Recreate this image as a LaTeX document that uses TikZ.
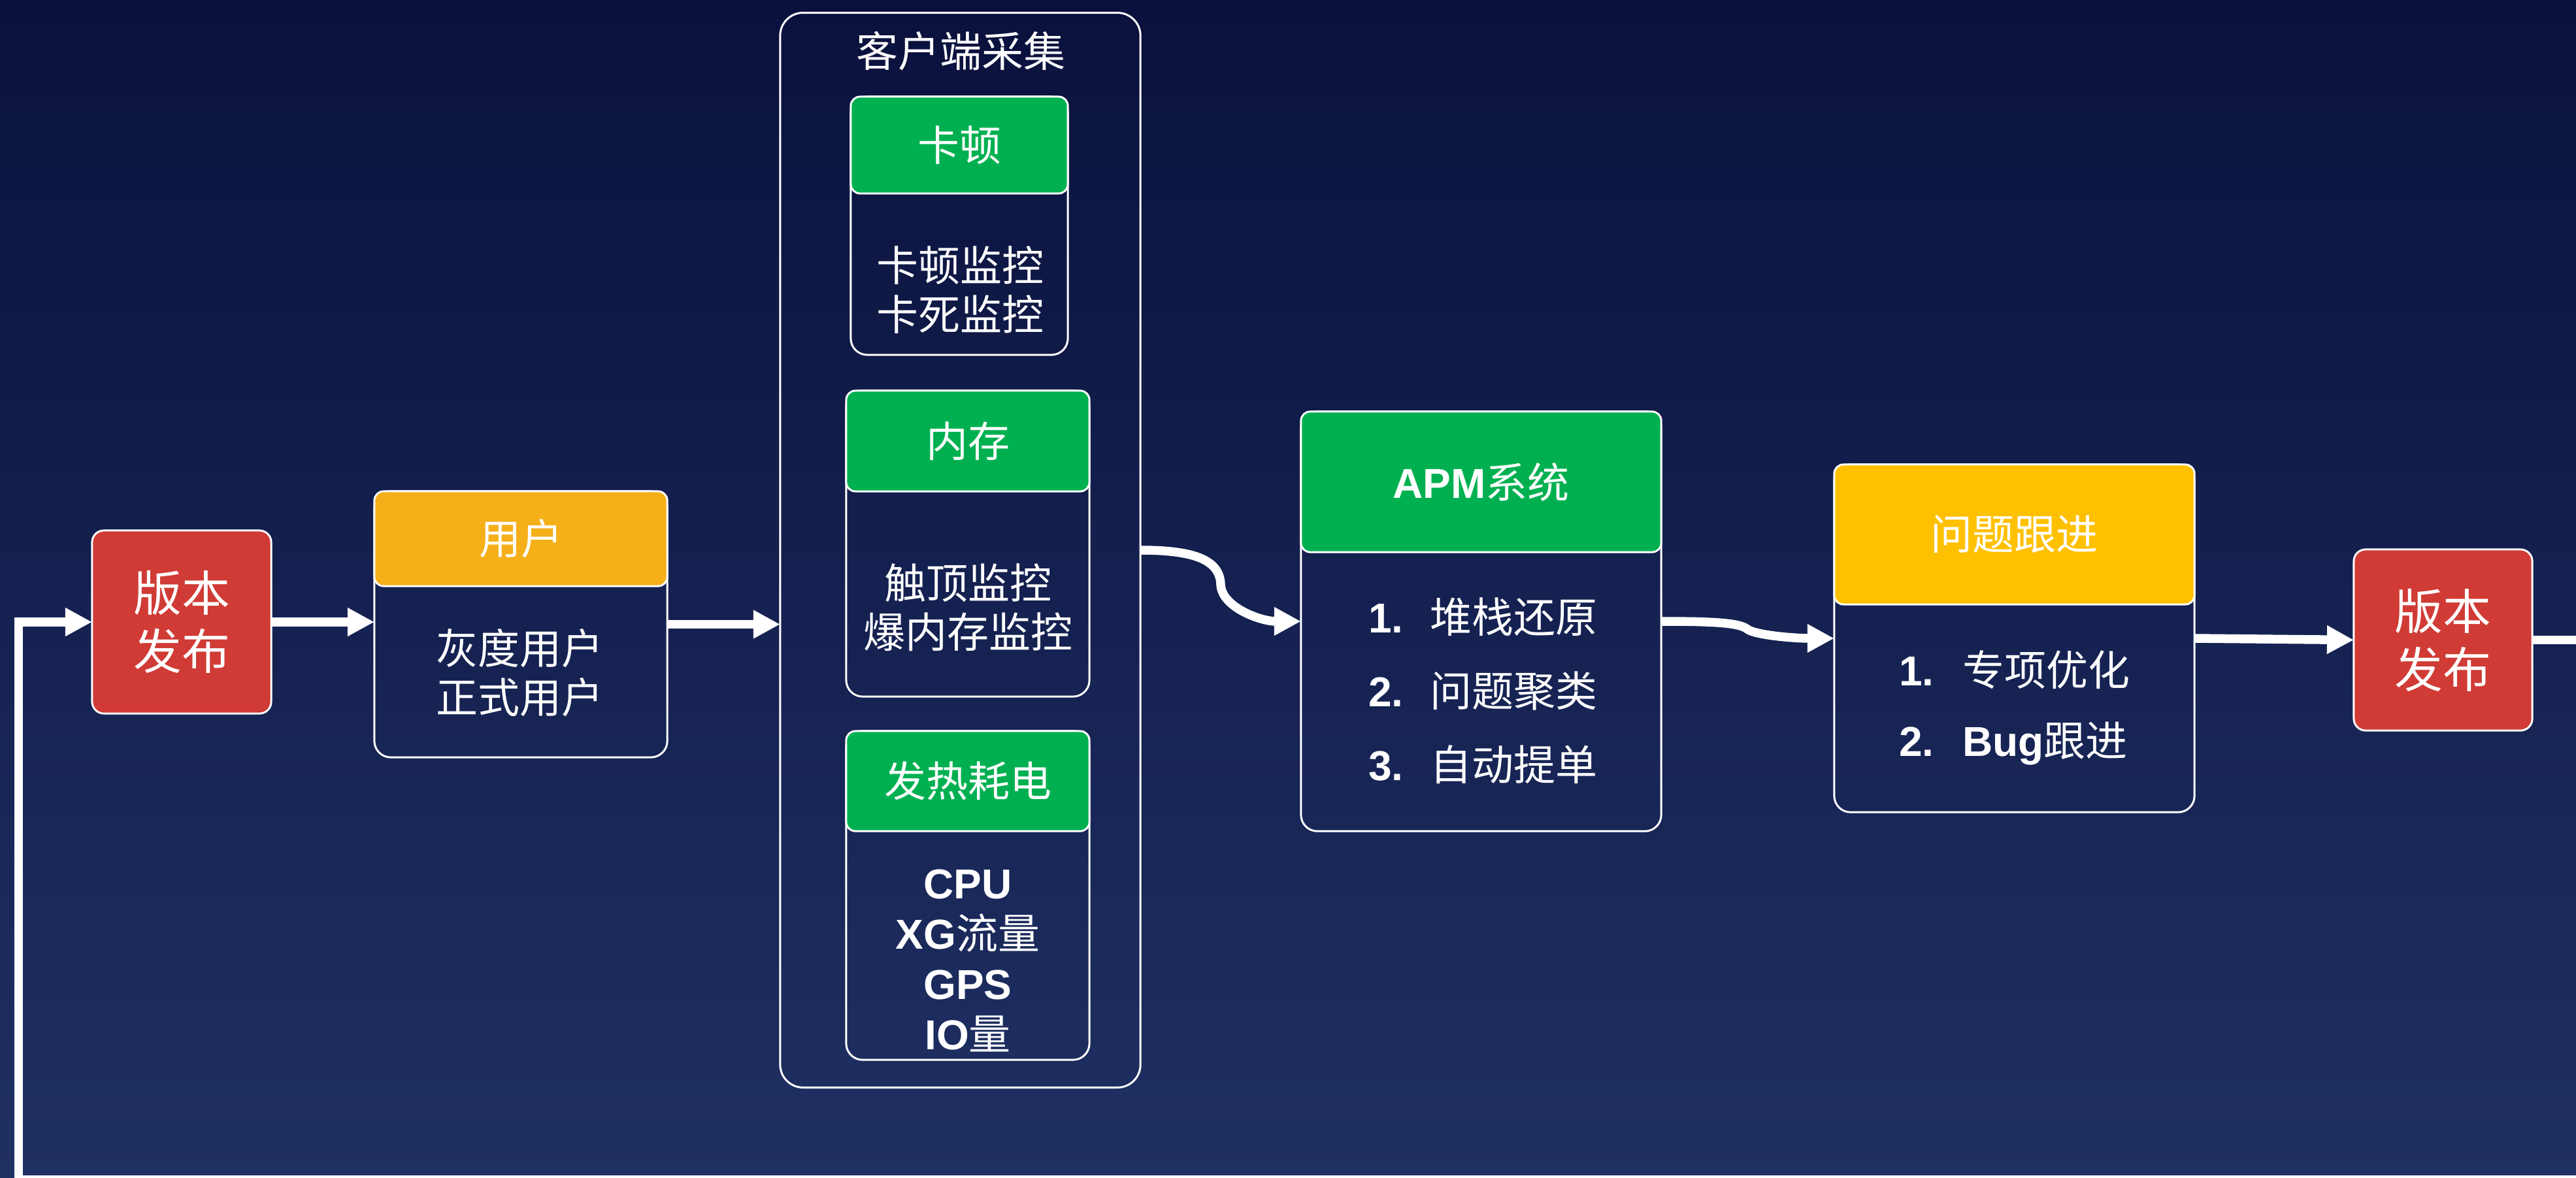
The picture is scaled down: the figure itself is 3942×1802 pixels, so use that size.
\documentclass[tikz,border=0pt]{standalone}
\usepackage{fontspec}
\setmainfont{Noto Sans CJK SC}
\newfontfamily\latb{Liberation Sans}
\usetikzlibrary{arrows.meta}
\definecolor{bgtop}{RGB}{10,17,60}
\definecolor{bgbot}{RGB}{31,48,99}
\definecolor{vred}{RGB}{208,59,54}
\definecolor{uorange}{RGB}{245,175,25}
\definecolor{tyellow}{RGB}{255,192,0}
\definecolor{hgreen}{RGB}{0,176,80}
\newcommand{\B}[1]{{\latb\bfseries #1}}
\begin{document}
\begin{tikzpicture}[x=0.01cm,y=-0.01cm,
  every node/.style={text=white, inner sep=0pt, outer sep=0pt},
  frame/.style={rectangle, draw=white, line width=0.85pt, rounded corners=0.25cm},
  outerframe/.style={rectangle, draw=white, line width=0.85pt, rounded corners=0.35cm},
  head/.style={rectangle, draw=white, line width=0.85pt, rounded corners=0.14cm, font=\fontsize{18.2pt}{21.3pt}\selectfont},
  release/.style={rectangle, draw=white, line width=0.85pt, rounded corners=0.18cm, fill=vred, align=center, font=\fontsize{21pt}{25.3pt}\selectfont},
  txt/.style={align=center, font=\fontsize{18.2pt}{21.3pt}\selectfont},
  item/.style={anchor=west, font=\fontsize{18.2pt}{21.3pt}\selectfont},
  flow/.style={draw=white, line width=3.84pt, line join=miter, -{Triangle[length=0.41cm,width=0.41cm]}}
]
\useasboundingbox (0,0) rectangle (3942,1802);
\clip (0,0) rectangle (3942,1802);
\shade[top color=bgtop, bottom color=bgbot] (0,0) rectangle (3942,1802);

% release boxes
\node[release, minimum width=2.74cm, minimum height=2.80cm] (vb1) at (278,952) {版本\\发布};
\node[release, minimum width=2.73cm, minimum height=2.77cm] (vb2) at (3738.5,979.5) {版本\\发布};

% users
\node[frame, minimum width=4.48cm, minimum height=4.07cm] (user) at (797,955.5) {};
\node[head, fill=uorange, minimum width=4.48cm, minimum height=1.45cm] (userh) at (797,824.5) {用户};
\node[txt] (usertxt) at (795,1030) {灰度用户\\正式用户};

% client collection
\node[outerframe, minimum width=5.51cm, minimum height=16.44cm] (client) at (1469.5,842) {};
\node[txt] (clienttitle) at (1470,78) {客户端采集};

\node[frame, minimum width=3.32cm, minimum height=3.95cm] (kd) at (1468,345.5) {};
\node[head, fill=hgreen, minimum width=3.32cm, minimum height=1.48cm] (kdh) at (1468,222) {卡顿};
\node[txt] (kdtxt) at (1469,444) {卡顿监控\\卡死监控};

\node[frame, minimum width=3.72cm, minimum height=4.68cm] (nc) at (1481,832) {};
\node[head, fill=hgreen, minimum width=3.72cm, minimum height=1.54cm] (nch) at (1481,675) {内存};
\node[txt] (nctxt) at (1481,930) {触顶监控\\爆内存监控};

\node[frame, minimum width=3.72cm, minimum height=5.03cm] (fr) at (1481,1370.5) {};
\node[head, fill=hgreen, minimum width=3.72cm, minimum height=1.53cm] (frh) at (1481,1195.5) {发热耗电};
\node[txt, font=\fontsize{18.2pt}{21.9pt}\selectfont] (frtxt) at (1481,1470) {\B{CPU}\\\B{XG}流量\\\B{GPS}\\\B{IO}量};

% APM
\node[frame, minimum width=5.51cm, minimum height=6.42cm] (apm) at (2266.5,951) {};
\node[head, fill=hgreen, minimum width=5.51cm, minimum height=2.15cm] (apmh) at (2266.5,737.5) {\B{APM}系统};
\node[item] (apm1) at (2094,944) {\B{1.}\hspace{11.7pt}堆栈还原};
\node[item] (apm2) at (2094,1058) {\B{2.}\hspace{11.7pt}问题聚类};
\node[item] (apm3) at (2094,1170) {\B{3.}\hspace{11.7pt}自动提单};

% tracking
\node[frame, minimum width=5.51cm, minimum height=5.32cm] (wt) at (3082.5,977) {};
\node[head, fill=tyellow, minimum width=5.51cm, minimum height=2.14cm] (wth) at (3082.5,818) {问题跟进};
\node[item] (wt1) at (2906,1025) {\B{1.}\hspace{12.5pt}专项优化};
\node[item] (wt2) at (2906,1138) {\B{2.}\hspace{12.5pt}\B{Bug}跟进};

% connectors
\coordinate (bump1) at (1868,895);
\coordinate (bump2) at (2674,963);
\coordinate (c1) at (3990,979.5);
\coordinate (c2) at (3990,1806);
\coordinate (c3) at (28.5,1806);

\draw[flow] (vb1.east) -- (vb1.east -| user.west);
\draw[flow] (user.east) -- (user.east -| client.west);
\draw[flow] (client.east) .. controls (1830,842) and (1867,858) .. (bump1)
   .. controls (1870,930) and (1930,951) .. (apm.west);
\draw[flow] (apm.east) .. controls (2620,951) and (2662,953) .. (bump2)
   .. controls (2686,972) and (2745,977) .. (wt.west);
\draw[flow] (wt.east) -- (vb2.west);
\draw[flow] (vb2.east) -- (c1) -- (c2) -- (c3) |- (vb1.west);
\end{tikzpicture}
\end{document}
